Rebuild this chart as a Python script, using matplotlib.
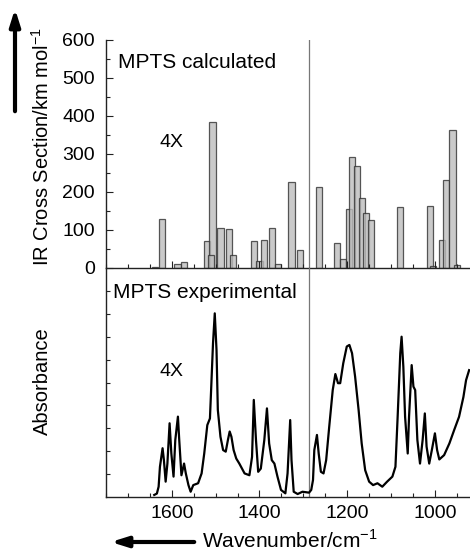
import matplotlib
matplotlib.use("Agg")
import matplotlib.pyplot as plt
from matplotlib.ticker import MultipleLocator, NullFormatter

plt.rcParams["font.family"] = ["Liberation Sans", "DejaVu Sans"]
plt.rcParams["mathtext.fontset"] = "custom"
plt.rcParams["mathtext.rm"] = "Liberation Sans"
plt.rcParams["font.size"] = 14

# calculated IR bands (cm-1, km/mol)
calc_wn = [1638, 1622, 1587, 1573, 1520, 1507, 1511, 1489, 1470, 1461, 1412, 1400,
           1389, 1372, 1357, 1327, 1307, 1264, 1223, 1209, 1195, 1189, 1177, 1167,
           1158, 1145, 1079, 1012, 1005, 984, 974, 960, 950]
calc_int = [3, 128, 10, 15, 72, 383, 35, 105, 103, 34, 72, 18,
            74, 104, 10, 225, 47, 214, 67, 23, 155, 291, 268, 185,
            144, 126, 160, 164, 5, 74, 232, 363, 8]

# experimental spectrum (arbitrary absorbance units)
exp_wn = [1640, 1634, 1630, 1627, 1621, 1618, 1614, 1610, 1605, 1601, 1596, 1592,
          1586, 1583, 1578, 1572, 1568, 1562, 1557, 1551, 1540, 1532, 1526, 1519,
          1513, 1510, 1506, 1502, 1498, 1495, 1489, 1483, 1477, 1472, 1468, 1464,
          1459, 1453, 1446, 1434, 1423, 1417, 1413, 1408, 1403, 1397, 1389, 1383,
          1378, 1372, 1366, 1359, 1351, 1341, 1336, 1330, 1327, 1322, 1313, 1302,
          1287, 1282, 1278, 1275, 1269, 1265, 1260, 1254, 1248, 1241, 1233, 1227,
          1221, 1216, 1209, 1201, 1195, 1189, 1182, 1174, 1167, 1159, 1150, 1141,
          1131, 1120, 1109, 1097, 1090, 1085, 1079, 1076, 1072, 1068, 1062, 1059,
          1053, 1049, 1045, 1040, 1034, 1028, 1023, 1019, 1013, 1007, 1000, 995,
          990, 979, 967, 956, 945, 935, 929, 922]
exp_abs = [0.09, 0.15, 0.45, 1.32, 2.13, 1.62, 0.67, 1.46, 3.22, 1.90, 0.89, 2.49,
           3.51, 2.49, 0.95, 1.46, 1.03, 0.52, 0.23, 0.52, 0.60, 1.03, 1.90, 3.14,
           3.43, 4.82, 6.71, 8.02, 6.42, 3.80, 2.63, 2.05, 1.98, 2.49, 2.86, 2.63,
           2.05, 1.68, 1.46, 1.03, 0.95, 1.75, 4.24, 2.49, 1.10, 1.24, 2.49, 3.87,
           2.34, 1.61, 1.46, 0.89, 0.31, 0.16, 1.03, 3.36, 1.61, 0.23, 0.13, 0.23,
           0.19, 0.31, 0.74, 2.05, 2.71, 1.90, 1.10, 1.03, 1.61, 3.07, 4.67, 5.37,
           4.97, 4.97, 5.84, 6.57, 6.64, 6.28, 5.26, 3.80, 2.34, 1.17, 0.67, 0.52,
           0.60, 0.45, 0.67, 0.89, 1.32, 3.50, 6.28, 7.00, 5.69, 3.50, 1.90, 3.50,
           5.76, 4.82, 4.67, 2.49, 1.46, 2.49, 3.65, 2.20, 1.46, 2.05, 2.78, 2.05,
           1.64, 1.83, 2.34, 2.93, 3.50, 4.37, 5.10, 5.54]

marker_wn = 1286
W, H = 470, 551

fig = plt.figure(figsize=(W / 100, H / 100), dpi=100)
left, right = 106, 470
ax1 = fig.add_axes([left / W, 1 - 268 / H, (right - left) / W, (268 - 40) / H])
ax2 = fig.add_axes([left / W, 1 - 497 / H, (right - left) / W, (497 - 268) / H])
ax2.set_facecolor("none")

for ax in (ax1, ax2):
    ax.set_xlim(1750, 920)
    ax.spines["right"].set_visible(False)
    ax.spines["top"].set_visible(False)
    for s in ("left", "bottom"):
        ax.spines[s].set_linewidth(1.0)
        ax.spines[s].set_color("#222222")
    ax.xaxis.set_major_locator(MultipleLocator(200))
    ax.xaxis.set_minor_locator(MultipleLocator(50))
    ax.tick_params(which="both", direction="in", top=False, right=False, width=0.8,
                   color="#222222")
    ax.tick_params(which="major", length=5)
    ax.tick_params(which="minor", length=3)
    ax.axvline(marker_wn, color="#777777", lw=0.9)

# upper panel: calculated bars
ax1.bar(calc_wn, calc_int, width=14, facecolor="#bdbdbd", edgecolor="#303030",
        linewidth=0.9, alpha=0.8)
ax1.set_ylim(0, 600)
ax1.yaxis.set_major_locator(MultipleLocator(100))
ax1.yaxis.set_minor_locator(MultipleLocator(50))
ax1.xaxis.set_major_formatter(NullFormatter())
ax1.tick_params(axis="y", pad=8)
ax1.text(1723, 540, "MPTS calculated", va="center", fontsize=15)
ax1.text(1600, 330, "4X", ha="center", va="center")

# lower panel: experimental spectrum
ax2.plot(exp_wn, exp_abs, color="black", lw=1.6, solid_joinstyle="round")
ax2.set_ylim(0, 10)
ax2.set_yticks([1, 2, 3, 4, 5, 6, 7, 8, 9])
ax2.yaxis.set_major_formatter(NullFormatter())
ax2.tick_params(axis="y", length=3)
ax2.tick_params(axis="x", pad=6)
ax2.text(1735, 8.95, "MPTS experimental", va="center", fontsize=15)
ax2.text(1600, 5.5, "4X", ha="center", va="center")

# axis labels and arrows
fig.text(42 / W, 1 - 146 / H, "IR Cross Section/km mol$^{-1}$", rotation=90,
         ha="center", va="center", fontsize=14.5)
fig.text(42 / W, 1 - 381 / H, "Absorbance", rotation=90,
         ha="center", va="center", fontsize=14.5)
fig.text(202 / W, 1 - 540 / H, "Wavenumber/cm$^{-1}$", ha="left", va="center",
         fontsize=15)

arrow_style = dict(arrowstyle="-|>,head_length=0.7,head_width=0.22", lw=3.0, color="black")
fig.add_artist(plt.Annotation("", xy=(15 / W, 1 - 6 / H), xytext=(15 / W, 1 - 114 / H),
                              xycoords="figure fraction", textcoords="figure fraction",
                              arrowprops=arrow_style))
fig.add_artist(plt.Annotation("", xy=(108 / W, 1 - 542 / H), xytext=(197 / W, 1 - 542 / H),
                              xycoords="figure fraction", textcoords="figure fraction",
                              arrowprops=arrow_style))

fig.savefig("out.png", dpi=100)
